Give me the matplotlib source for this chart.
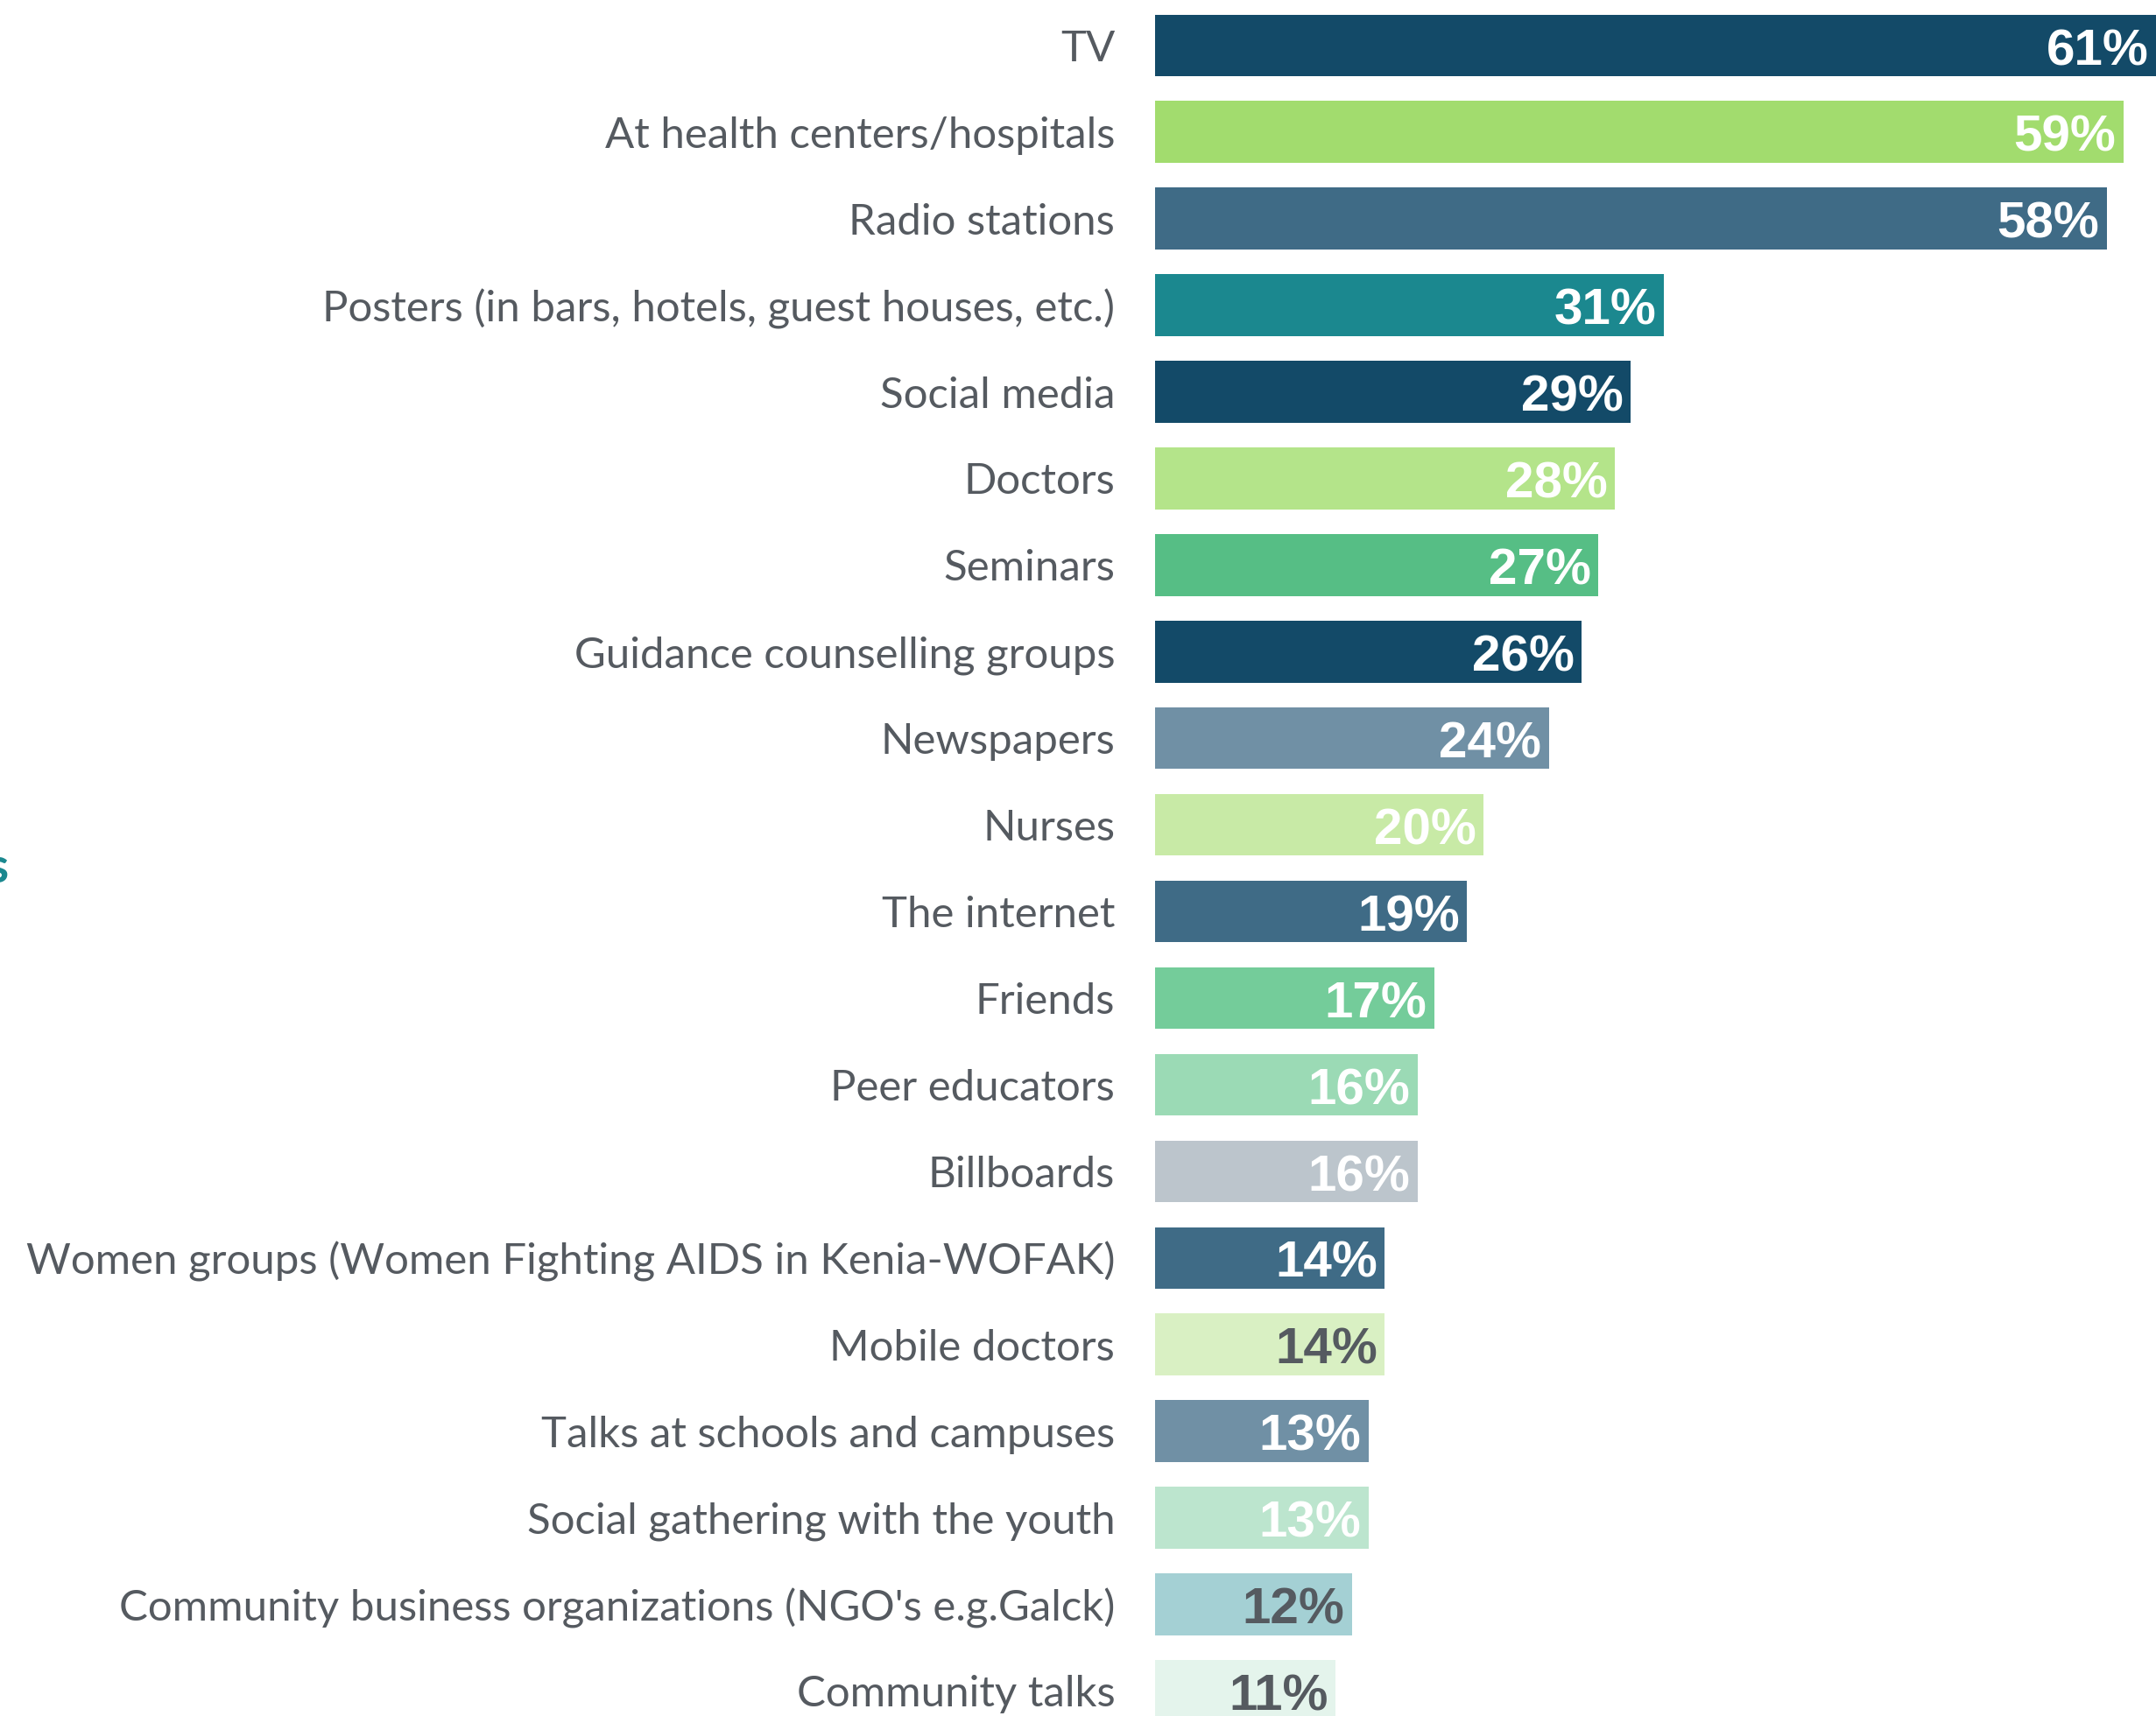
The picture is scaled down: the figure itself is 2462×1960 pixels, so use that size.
import matplotlib
matplotlib.use("Agg")
import matplotlib.pyplot as plt

categories = [
    "TV", "At health centers/hospitals", "Radio stations",
    "Posters (in bars, hotels, guest houses, etc.)", "Social media", "Doctors",
    "Seminars", "Guidance counselling groups", "Newspapers", "Nurses",
    "The internet", "Friends", "Peer educators", "Billboards",
    "Women groups (Women Fighting AIDS in Kenia-WOFAK)", "Mobile doctors",
    "Talks at schools and campuses", "Social gathering with the youth",
    "Community business organizations (NGO's e.g.Galck)", "Community talks",
]
values = [61, 59, 58, 31, 29, 28, 27, 26, 24, 20, 19, 17, 16, 16, 14, 14, 13, 13, 12, 11]
colors = [
    "#134a68", "#a2dc6e", "#3f6b86", "#1b888f", "#134a68", "#b4e48a",
    "#56be85", "#134a68", "#7090a5", "#c8eaa6", "#3f6b86", "#74cc9a",
    "#9bdab5", "#bcc5cc", "#3f6b86", "#d9f0c3", "#7090a5", "#bce5ce",
    "#a4d0d4", "#e4f4ec",
]
dark_labels = ["Mobile doctors", "Community business organizations (NGO's e.g.Galck)",
               "Community talks"]

W, H, DPI = 2462, 1960, 200
fig = plt.figure(figsize=(W / DPI, H / DPI), dpi=DPI)
x0 = 1319 / W
ax = fig.add_axes([x0, 0, 1 - x0, 1])

pos = list(range(len(categories)))
ax.barh(pos, values, height=0.713, color=colors)
ax.set_xlim(0, 61)
ax.set_ylim(19.289, -0.5236)

ax.set_yticks(pos)
ax.set_yticklabels(categories, family=["Lato", "DejaVu Sans"], fontsize=17.7, color="#555a60")
ax.tick_params(axis="y", length=0, pad=16.5)
ax.set_xticks([])
for s in ax.spines.values():
    s.set_visible(False)

for i, (c, v) in enumerate(zip(categories, values)):
    col = "#555a60" if c in dark_labels else "white"
    ax.annotate(f"{v}%", (v, i), xytext=(-3, -8), textcoords="offset points",
                ha="right", va="baseline", fontsize=21, fontweight="bold",
                family="Liberation Sans", color=col)

# cut-off title fragment at the left edge
fig.text(11 / W, 1 - 1008 / H, "Sources", ha="right", va="baseline",
         fontsize=20, fontweight="bold", family="Lato", color="#1b888f")

fig.savefig("out.png", dpi=DPI)
